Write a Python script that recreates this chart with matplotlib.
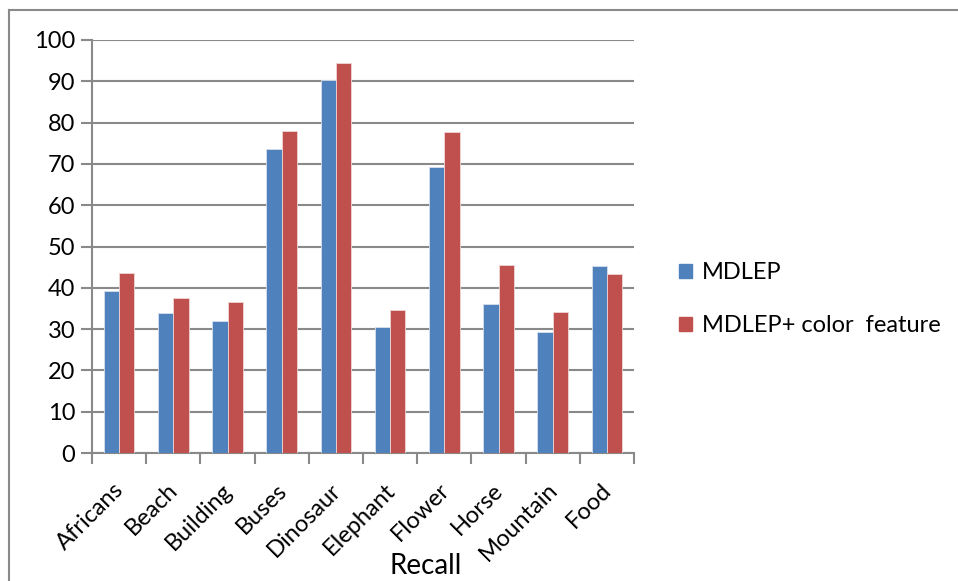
import matplotlib
matplotlib.use('Agg')
import matplotlib.pyplot as plt
import matplotlib.transforms as mtransforms
from matplotlib.patches import Patch
from matplotlib.lines import Line2D
import numpy as np

plt.rcParams['font.family'] = ['Lato', 'DejaVu Sans']

categories = ["Africans", "Beach", "Building", "Buses", "Dinosaur",
              "Elephant", "Flower", "Horse", "Mountain", "Food"]
mdlep = [39.2, 33.8, 32.0, 73.6, 90.2, 30.4, 69.2, 36.1, 29.3, 45.3]
mdlep_color = [43.6, 37.5, 36.6, 77.9, 94.4, 34.6, 77.8, 45.4, 34.1, 43.4]
series_names = ["MDLEP", "MDLEP+ color  feature"]

blue = "#4F81BD"
red = "#C0504D"
grey = "#898989"

fig = plt.figure(figsize=(9.58, 5.81), dpi=100)
ax = fig.add_axes([92/958, 1-453/581, (634-92)/958, (453-40)/581])

x = np.arange(len(categories))
w = 0.283
ax.bar(x - w/2, mdlep, w, color=blue, edgecolor="#d6e0ee", linewidth=0.6, zorder=3)
ax.bar(x + w/2, mdlep_color, w, color=red, edgecolor="#eed6d6", linewidth=0.6, zorder=3)

ax.set_xlim(-0.5, len(categories) - 0.5)
ax.set_ylim(0, 100)
ax.set_yticks(np.arange(0, 101, 10))
ax.yaxis.grid(True, color=grey, linewidth=1.5, zorder=0)

ax.set_xticks(x)
ax.set_xticklabels(categories, rotation=45, ha="right", rotation_mode="anchor", fontsize=17)
ax.set_xticks(np.arange(-0.5, len(categories)), minor=True)
ax.tick_params(axis="x", which="major", length=0, pad=19)
ax.tick_params(axis="x", which="minor", length=8, width=1.5, color=grey)
ax.tick_params(axis="y", length=8, width=1.5, color=grey, labelsize=17, pad=4)

# nudge the rotated category labels a little to the left
shift = mtransforms.ScaledTranslation(-6/100, 0, fig.dpi_scale_trans)
for lbl in ax.get_xticklabels():
    lbl.set_transform(lbl.get_transform() + shift)

for s in ["top", "right"]:
    ax.spines[s].set_visible(False)
for s in ["left", "bottom"]:
    ax.spines[s].set_color(grey)
    ax.spines[s].set_linewidth(1.5)

ax.set_xlabel("Recall", fontsize=20)
ax.xaxis.set_label_coords(334/542, -100/413)

handles = [Patch(color=blue), Patch(color=red)]
fig.legend(handles, series_names, loc="upper left", bbox_to_anchor=(658/958, 1-241/581),
           frameon=False, fontsize=17, handlelength=0.55, handleheight=0.55,
           handletextpad=0.4, labelspacing=1.35)

# outer chart border
fig.add_artist(Line2D([9/958, 9/958], [0, 1-10/581], color=grey, linewidth=1.5))
fig.add_artist(Line2D([9/958, 1], [1-10/581, 1-10/581], color=grey, linewidth=1.5))

fig.savefig("out.png", dpi=100)
